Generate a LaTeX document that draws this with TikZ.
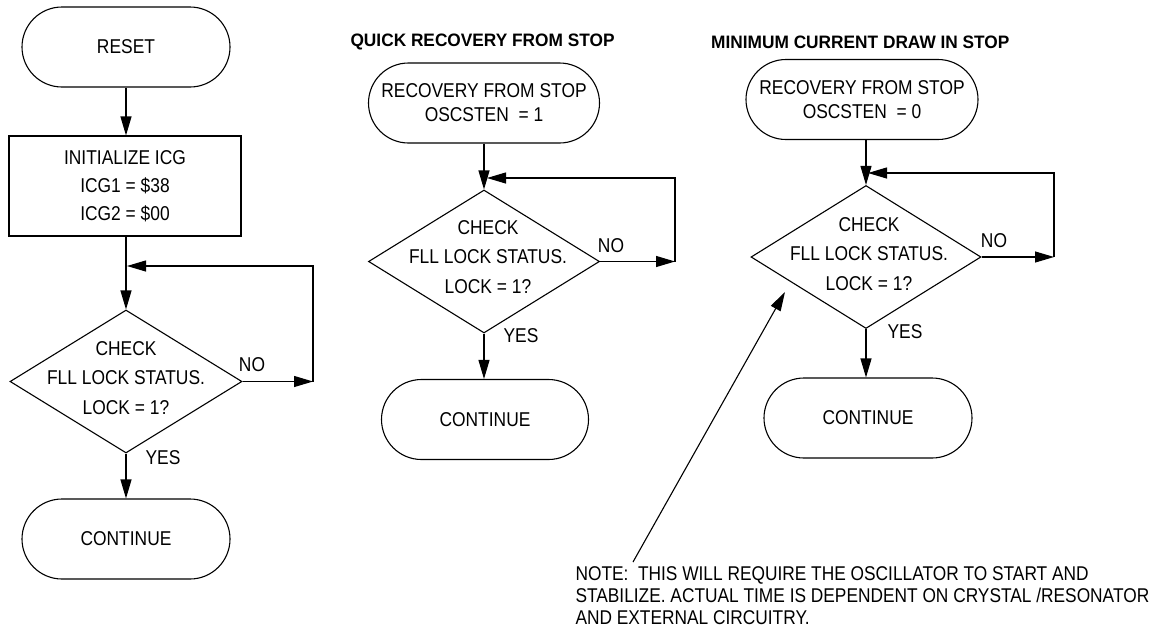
\documentclass[tikz,border=0pt]{standalone}
\usepackage{fontspec}
\setmainfont{Liberation Sans}[FakeStretch=0.87]
\newfontfamily\titlefont{Liberation Sans Bold}[FakeStretch=0.96]
\usetikzlibrary{arrows.meta,shapes.geometric}
\begin{document}
\begin{tikzpicture}[x=1pt,y=-1pt, line width=1.1pt,
  every node/.style={font=\fontsize{20}{24}\selectfont},
  term/.style={draw, rectangle, rounded corners=40pt, minimum width=208pt, minimum height=80pt, inner sep=0pt, align=center},
  proc/.style={draw, rectangle, minimum width=232pt, minimum height=100pt, inner sep=0pt, align=center, font=\fontsize{20}{28}\selectfont},
  dec/.style={draw, diamond, minimum width=232pt, minimum height=143pt, inner sep=0pt},
  dectext/.style={align=center, inner sep=0pt, font=\fontsize{20}{29.5}\selectfont},
  lbl/.style={inner sep=0pt},
  ttl/.style={inner sep=0pt, font=\titlefont\fontsize{18}{22}\selectfont},
  arr/.style={-{Triangle[length=19pt,width=11pt]}}
]
\useasboundingbox (0,0) rectangle (1157,632);

% ---- left column
\node[term] (reset) at (126,47) {RESET};
\node[proc] (init) at (125,186) {INITIALIZE ICG\\ICG1 = \$38\\ICG2 = \$00};
\node[dec] (d1) at (126,381.5) {};
\node[dectext] (t1) at (126,378) {CHECK\\FLL LOCK STATUS.\\LOCK = 1?};
\node[term] (c1) at (126,539) {CONTINUE};
\node[lbl] (no1) at (252,365) {NO};
\node[lbl] (yes1) at (163,458) {YES};
\coordinate (r1) at (313,381.5);
\coordinate (j1) at (127,266);
\draw[arr] (reset.south) -- (reset.south |- init.north);
\draw[arr] (d1.north |- init.south) -- (d1.north);
\draw[arr] (d1.east) -- (r1);
\draw[arr] (r1) -- (r1 |- j1) -- (j1);
\draw[arr] (d1.south) -- (c1.north);

% ---- middle column
\node[ttl, anchor=west] (ti2) at (350,42) {QUICK RECOVERY FROM STOP};
\node[term, minimum width=231pt] (s2) at (484,103) {RECOVERY FROM STOP\\OSCSTEN\ \ = 1};
\node[dec, minimum width=231pt] (d2) at (484,261.5) {};
\node[dectext] (t2) at (488,257) {CHECK\\FLL LOCK STATUS.\\LOCK = 1?};
\node[term, minimum width=207pt] (c2) at (485,419.5) {CONTINUE};
\node[lbl] (no2) at (611,246) {NO};
\node[lbl] (yes2) at (521,336) {YES};
\coordinate (r2) at (675,261.5);
\coordinate (j2) at (487,178);
\draw[arr] (d2.north |- s2.south) -- (d2.north);
\draw[arr] (d2.east) -- (r2);
\draw[arr] (r2) -- (r2 |- j2) -- (j2);
\draw[arr] (d2.south) -- (d2.south |- c2.north);

% ---- right column
\node[ttl, anchor=east] (ti3) at (1010,42) {MINIMUM CURRENT DRAW IN STOP};
\node[term, minimum width=232pt] (s3) at (862,99.5) {RECOVERY FROM STOP\\OSCSTEN\ \ = 0};
\node[dec, minimum width=230pt] (d3) at (866,257) {};
\node[dectext] (t3) at (869,254) {CHECK\\FLL LOCK STATUS.\\LOCK = 1?};
\node[term, minimum width=208pt] (c3) at (868,418) {CONTINUE};
\node[lbl] (no3) at (994,241) {NO};
\node[lbl] (yes3) at (905,332) {YES};
\coordinate (r3) at (1054,257);
\coordinate (j3) at (868,173);
\draw[arr] (d3.north |- s3.south) -- (d3.north);
\draw[arr] (d3.east) -- (r3);
\draw[arr] (r3) -- (r3 |- j3) -- (j3);
\draw[arr] (d3.south) -- (d3.south |- c3.north);

% ---- note
\node[anchor=north west, align=left, inner sep=0pt, font=\fontsize{19.9}{22}\selectfont] (note) at (575,566)
  {NOTE:\ \ THIS WILL REQUIRE THE OSCILLATOR TO START AND\\STABILIZE. ACTUAL TIME IS DEPENDENT ON CRYSTAL /RESONATOR\\AND EXTERNAL CIRCUITRY.};
\coordinate (ns) at (633,562);
\coordinate (nt) at (785,292);
\draw[arr] (ns) -- (nt);
\end{tikzpicture}
\end{document}
